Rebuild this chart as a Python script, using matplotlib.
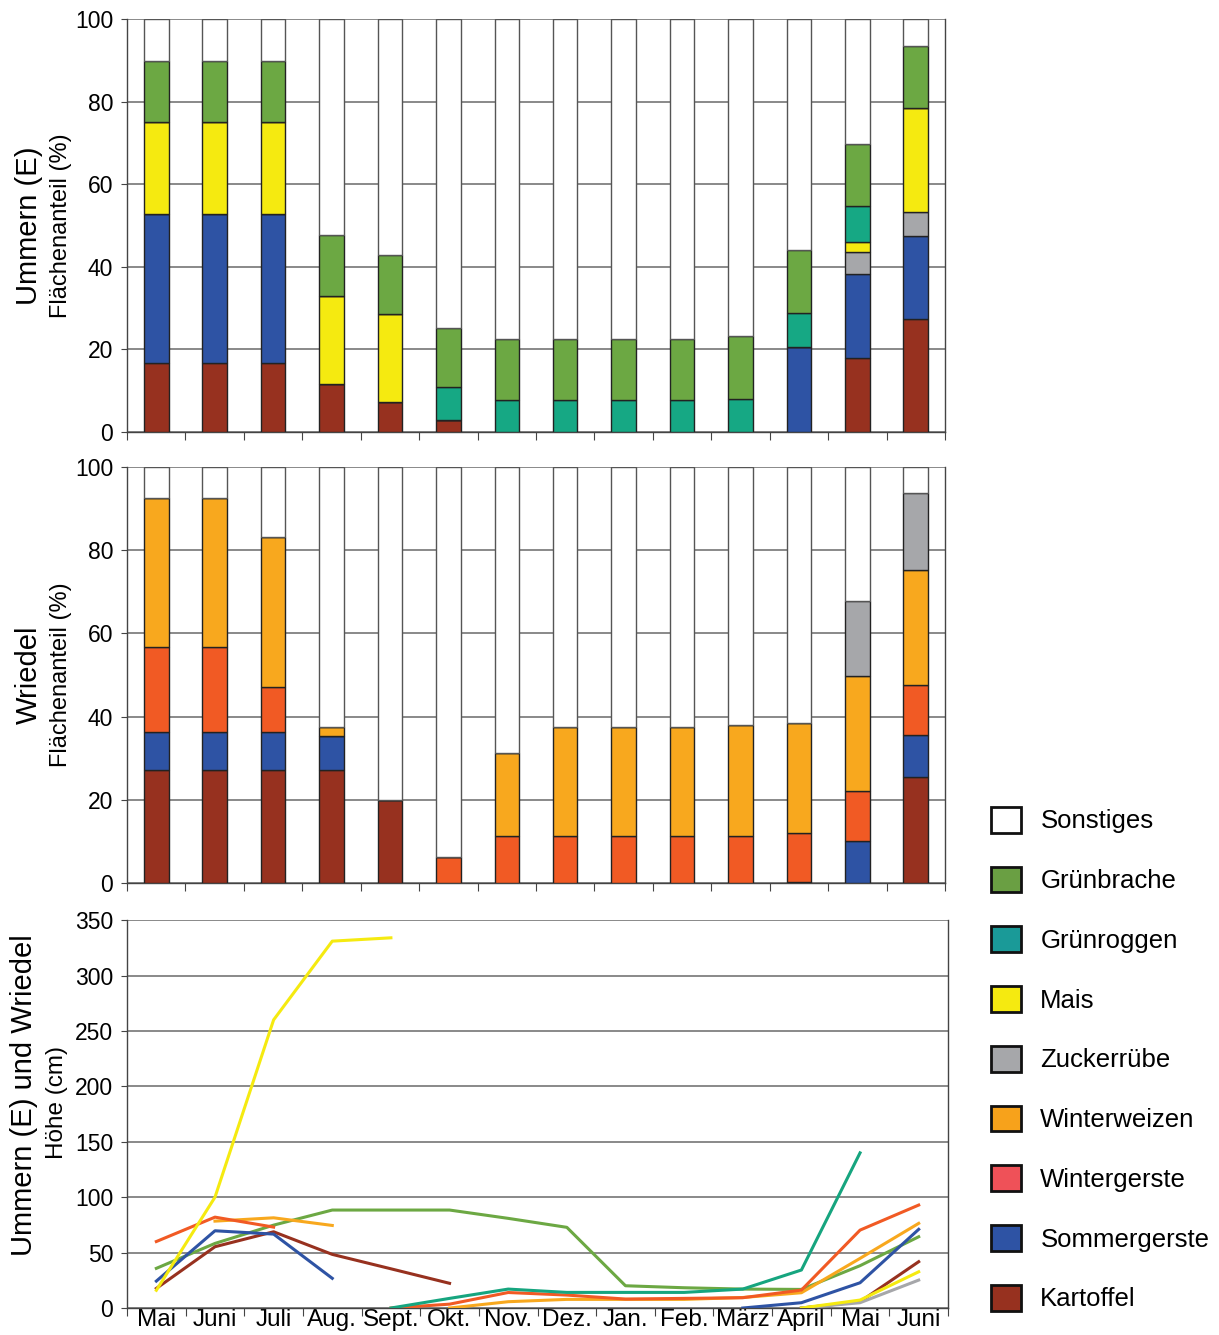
import numpy as np
import matplotlib
matplotlib.use("Agg")
from matplotlib import pyplot as plt
from matplotlib.patches import Patch

plt.rcParams["font.family"] = ["Liberation Sans", "DejaVu Sans"]

months = ["Mai", "Juni", "Juli", "Aug.", "Sept.", "Okt.", "Nov.", "Dez.",
          "Jan.", "Feb.", "März", "April", "Mai", "Juni"]

# stacked area shares (%), Ummern (E)
u_kartoffel = [16.7, 16.7, 16.7, 11.6, 7.3, 2.9, 0, 0, 0, 0, 0, 0, 17.9, 27.4]
u_sommergerste = [36.1, 36.1, 36.1, 0, 0, 0, 0, 0, 0, 0, 0, 20.6, 20.4, 20.1]
u_zuckerruebe = [0, 0, 0, 0, 0, 0, 0, 0, 0, 0, 0, 0, 5.4, 5.8]
u_mais = [22.2, 22.2, 22.2, 21.3, 21.3, 0, 0, 0, 0, 0, 0, 0, 2.4, 25.2]
u_gruenroggen = [0, 0, 0, 0, 0, 8.0, 7.7, 7.7, 7.7, 7.7, 8.0, 8.2, 8.5, 0]
u_gruenbrache = [14.8, 14.8, 14.8, 14.8, 14.3, 14.3, 14.8, 14.8, 14.8, 14.8, 15.2, 15.3, 15.1, 15.0]

# stacked area shares (%), Wriedel
w_kartoffel = [27.2, 27.2, 27.2, 27.2, 19.9, 0, 0, 0, 0, 0, 0, 0.3, 0, 25.5]
w_sommergerste = [9.1, 9.1, 9.1, 8.1, 0, 0, 0, 0, 0, 0, 0, 0, 10.1, 10.1]
w_wintergerste = [20.4, 20.4, 10.8, 0, 0, 6.2, 11.3, 11.3, 11.3, 11.3, 11.3, 11.6, 12.0, 12.1]
w_winterweizen = [35.8, 35.8, 36.1, 2.2, 0, 0, 19.9, 26.2, 26.2, 26.2, 26.7, 26.6, 27.7, 27.5]
w_zuckerruebe = [0, 0, 0, 0, 0, 0, 0, 0, 0, 0, 0, 0, 18.1, 18.6]

# plant height (cm)
nan = np.nan
h_mais = [16, 100, 260, 331, 334, nan, nan, nan, nan, nan, nan, 0, 7.2, 32.7]
h_wintergerste = [60, 82, 73, nan, 0, 3.5, 14, 11.7, 8.1, 8.7, 9.3, 16.2, 70.3, 92.9]
h_winterweizen = [nan, 78.4, 81.4, 74.5, nan, 0, 5.7, 7.8, 7.8, 7.8, 9.5, 13.8, 44.8, 76.4]
h_sommergerste = [24.3, 69.7, 66.7, 26.8, nan, nan, nan, nan, nan, nan, 0, 4.8, 22.8, 71]
h_gruenbrache = [35.8, 58.3, 74.8, 88.4, 88.4, 88.4, 80.9, 72.8, 20.1, 18.3, 17.1, 16.8, 38.2, 64.3]
h_gruenroggen = [nan, nan, nan, nan, 0, 8.7, 17.1, 14.1, 14.1, 14.1, 17.1, 34.3, 140, nan]
h_kartoffel = [17.7, 55.3, 68.8, 48.4, 35.4, 22.3, nan, nan, nan, nan, nan, 0, 5.7, 41.8]
h_zuckerruebe = [nan, nan, nan, nan, nan, nan, nan, nan, nan, nan, nan, 0, 4.8, 25.2]

legend_names = ["Sonstiges", "Grünbrache", "Grünroggen", "Mais", "Zuckerrübe",
                "Winterweizen", "Wintergerste", "Sommergerste", "Kartoffel"]
legend_colors = ["#ffffff", "#6a9f43", "#1a9a98", "#f5ea10", "#a6a7aa",
                 "#f7a21b", "#ef5158", "#2e53a4", "#97311f"]

c = {"Kartoffel": "#97311f", "Sommergerste": "#2e53a4", "Wintergerste": "#f15a24",
     "Winterweizen": "#f8a81e", "Zuckerrübe": "#a6a7aa", "Mais": "#f5ea10",
     "Grünroggen": "#16a884", "Grünbrache": "#6ca843", "Sonstiges": "#ffffff"}

fig = plt.figure(figsize=(12.19, 13.35), dpi=100)
ax1 = fig.add_axes([0.1042, 0.6764, 0.671, 0.3094])
ax2 = fig.add_axes([0.1042, 0.3386, 0.671, 0.3116])
ax3 = fig.add_axes([0.1042, 0.0202, 0.6735, 0.2906])

x = np.arange(len(months))


def stacked(ax, layers):
    bottom = np.zeros(len(months))
    for name, vals in layers:
        vals = np.array(vals, dtype=float)
        ax.bar(x, vals, 0.42, bottom=bottom, color=c[name], edgecolor="#222222",
               linewidth=1.0, zorder=3)
        bottom += vals
    ax.bar(x, 100 - bottom, 0.42, bottom=bottom, color="white", edgecolor="#555555",
           linewidth=1.0, zorder=3)


stacked(ax1, [("Kartoffel", u_kartoffel), ("Sommergerste", u_sommergerste),
              ("Zuckerrübe", u_zuckerruebe), ("Mais", u_mais),
              ("Grünroggen", u_gruenroggen), ("Grünbrache", u_gruenbrache)])
stacked(ax2, [("Kartoffel", w_kartoffel), ("Sommergerste", w_sommergerste),
              ("Wintergerste", w_wintergerste), ("Winterweizen", w_winterweizen),
              ("Zuckerrübe", w_zuckerruebe)])

for ax in (ax1, ax2):
    ax.set_ylim(0, 100)
    ax.set_yticks([0, 20, 40, 60, 80, 100])

lines = [("Grünbrache", h_gruenbrache), ("Kartoffel", h_kartoffel),
         ("Sommergerste", h_sommergerste), ("Winterweizen", h_winterweizen),
         ("Wintergerste", h_wintergerste), ("Grünroggen", h_gruenroggen),
         ("Zuckerrübe", h_zuckerruebe), ("Mais", h_mais)]
line_col = dict(c)
line_col["Grünroggen"] = "#16a57f"
for name, vals in lines:
    ax3.plot(x, vals, color=line_col[name], linewidth=2.2, zorder=3)
ax3.set_ylim(0, 350)
ax3.set_yticks(range(0, 351, 50))

for ax in (ax1, ax2, ax3):
    ax.set_xlim(-0.5, len(months) - 0.5)
    ax.set_xticks(np.arange(-0.5, len(months), 1.0))
    ax.set_xticklabels([])
    ax.set_xticks(x, minor=True)
    ax.tick_params(axis="x", which="major", length=6, direction="out", color="#444444")
    ax.tick_params(axis="x", which="minor", length=0, labelsize=17.5, pad=1)
    ax.tick_params(axis="y", length=4, labelsize=16.5, color="#444444", pad=6)
    ax.grid(axis="y", color="#808080", linewidth=1.3, zorder=0)
    for s in ax.spines.values():
        s.set_color("#444444")
        s.set_linewidth(1.0)
    ax.spines["top"].set_visible(False)

ax3.set_xticklabels(months, minor=True)

ax1.text(-0.12, 0.5, "Ummern (E)", transform=ax1.transAxes, rotation=90,
         fontsize=21, ha="center", va="center")
ax1.text(-0.081, 0.5, "Flächenanteil (%)", transform=ax1.transAxes, rotation=90,
         fontsize=17, ha="center", va="center")
ax2.text(-0.12, 0.5, "Wriedel", transform=ax2.transAxes, rotation=90,
         fontsize=21, ha="center", va="center")
ax2.text(-0.081, 0.5, "Flächenanteil (%)", transform=ax2.transAxes, rotation=90,
         fontsize=17, ha="center", va="center")
ax3.text(-0.125, 0.55, "Ummern (E) und Wriedel", transform=ax3.transAxes, rotation=90,
         fontsize=21, ha="center", va="center")
ax3.text(-0.085, 0.53, "Höhe (cm)", transform=ax3.transAxes, rotation=90,
         fontsize=17.5, ha="center", va="center")

handles = [Patch(facecolor=col, edgecolor="#111111", linewidth=2.0)
           for col in legend_colors]
fig.legend(handles, legend_names, loc="upper left", bbox_to_anchor=(0.794, 0.413),
           frameon=False, fontsize=18.5, handlelength=1.17, handleheight=1.17,
           labelspacing=1.29, handletextpad=0.75)

fig.savefig("out.png", dpi=100)
